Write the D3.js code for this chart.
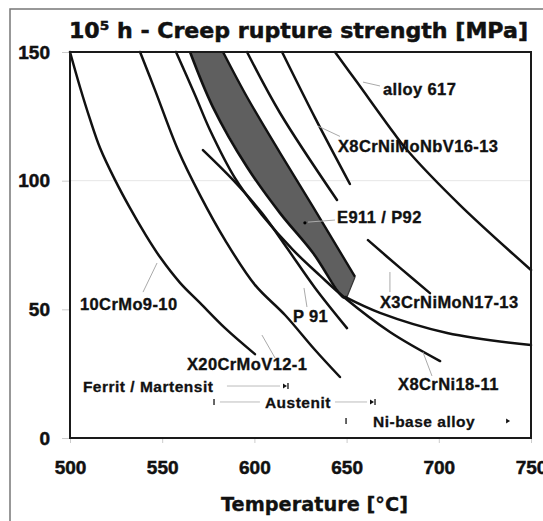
<!DOCTYPE html>
<html><head><meta charset="utf-8">
<script src="https://cdn.jsdelivr.net/npm/d3@7"></script>
<style>body{margin:0;background:#fff}svg{display:block}</style>
</head><body>
<script>
// ---- data (temperature °C, stress MPa) ----
const xTicks = [500, 550, 600, 650, 700, 750];
const yTicks = [0, 50, 100, 150];

const c10CrMo   = [[500,150],[505.4,136.4],[510.8,124.0],[516.3,112.7],[524.4,100.3],[532.5,89.4],[540.7,79.3],[548.8,70.3],[559.7,60.3],[570.5,52.5],[584.1,42.7],[600.3,32.6]];
const cX20      = [[538,150],[546.1,135.2],[558.6,111.9],[570.5,94.4],[584.1,76.9],[600.3,59.5],[616.6,47.8],[632.9,34.2],[646.4,23.7]];
const cX8CrNi   = [[557.5,150],[567.8,133.3],[575.9,119.7],[589.5,101.0],[604.1,86.7],[620.9,73.1],[635.6,63.1],[649.1,54.4],[673.5,41.2],[700.7,29.9]];
const cP91      = [[572.1,111.9],[588.4,100.3],[604.1,87.4],[617.7,73.8],[632.9,58.3],[650.2,42.7]];
const bandLow   = [[565.1,150],[577.5,128.6],[596,105.3],[613.9,87.4],[631.8,71.9],[648,54.8]];
const bandHigh  = [[583,150],[596,132.5],[613.9,110.8],[631.8,89.8],[654.6,62.6]];
const bandTip   = [650.2,54.8];
const cE        = [[596,150],[613.9,126.3],[644.8,92.5]];
const cNbV      = [[615,150],[632.9,124.4],[651.8,98.7]];
const cAlloy617 = [[643.7,150],[655.6,138.3],[675.2,118.9],[682.8,111.9],[711.5,90.5],[750,65.3]];
const cX3CrNi   = [[661.6,76.9],[679,66.1],[695.2,56.3]];
const cLowRight = [[649.1,54.8],[668.1,48.6],[704.5,40.8],[750,36.1]];

const curveLabels = [
  ["alloy 617", 669.7, 133.3],
  ["X8CrNiMoNbV16-13", 645.3, 111.1],
  ["E911 / P92", 644.8, 83.6],
  ["X3CrNiMoN17-13", 668.1, 50.5],
  ["P 91", 620.9, 45.1],
  ["10CrMo9-10", 505.4, 49.7],
  ["X20CrMoV12-1", 563.4, 26.4],
  ["X8CrNi18-11", 677.9, 18.7]
];
const leaders = [
  [[658.9,138.3],[668.1,136.8]],
  [[634.5,121.2],[646.4,117.2]],
  [[629.1,83.9],[643.7,84.7]],
  [[673.5,64.5],[673.5,56.7]],
  [[626.9,58.3],[628.5,50.9]],
  [[547.2,68.0],[539.6,56.7]],
  [[604.1,40.0],[611.2,31.1]],
  [[691.4,33.4],[696.3,24.1]]
];
const bandDot = [627.4, 83.6];

// structure ranges
const rowLabels = ["Ferrit / Martensit", "Austenit", "Ni-base alloy"];
const rowTextT  = [507.0, 605.7, 664.3];
const rowS      = [20.2, 14.0, 6.6];
const rowLines  = [[[585.1,613.9]], [[581.3,603.0],[643.7,661.1]], []];
const rowStart  = [null, 578.1, 649.7];
const rowArrow  = [615.5, 662.7, 736.5];

// ---- drawing ----
const W = 543, H = 521;
const x = d3.scaleLinear().domain([500, 750]).range([70, 531]);
const y = d3.scaleLinear().domain([0, 150]).range([438, 52]);

const svg = d3.select("body").append("svg").attr("width", W).attr("height", H);

svg.append("path").attr("d", `M10,${H} L10,9 L${W},9`).attr("fill", "none")
  .attr("stroke", "#777").attr("stroke-width", 1.5);

svg.append("line").attr("x1", x(500)).attr("x2", x(750)).attr("y1", y(100)).attr("y2", y(100))
  .attr("stroke", "#e6e6e6").attr("stroke-width", 1);

const yAxis = svg.append("g").attr("transform", `translate(${x(500)},0)`)
  .call(d3.axisLeft(y).tickValues(yTicks).tickSize(8).tickPadding(12));
const xAxis = svg.append("g").attr("transform", `translate(0,${y(0)})`)
  .call(d3.axisBottom(x).tickValues(xTicks).tickSize(5).tickPadding(18));
[yAxis, xAxis].forEach(g => {
  g.select(".domain").remove();
  g.selectAll(".tick line").attr("stroke", "#ccc");
  g.selectAll(".tick text").attr("font-family", "Liberation Sans, Arial, sans-serif")
    .attr("font-weight", "bold").attr("font-size", 19).attr("fill", "#111")
    .attr("stroke", "#111").attr("stroke-width", 0.5);
});

const line = d3.line().x(d => x(d[0])).y(d => y(d[1])).curve(d3.curveCatmullRom.alpha(0.5));

const bandPoly = bandLow.concat([bandTip]).concat(bandHigh.slice().reverse());
svg.append("path")
  .attr("d", d3.line().x(d => x(d[0])).y(d => y(d[1])).curve(d3.curveLinearClosed)(bandPoly))
  .attr("fill", "#5f5f5f").attr("stroke", "none");
svg.append("path").attr("d", line(bandLow.concat([bandTip]))).attr("fill", "none")
  .attr("stroke", "#111").attr("stroke-width", 2.6);
svg.append("path").attr("d", line(bandHigh)).attr("fill", "none")
  .attr("stroke", "#111").attr("stroke-width", 2.4);
svg.append("path").attr("d", line([bandHigh[bandHigh.length-1], bandTip])).attr("fill", "none")
  .attr("stroke", "#333").attr("stroke-width", 1.2);
svg.append("circle").attr("cx", x(bandDot[0])).attr("cy", y(bandDot[1])).attr("r", 1.6).attr("fill", "#000");

[c10CrMo, cX20, cX8CrNi, cP91, cE, cNbV, cAlloy617, cX3CrNi, cLowRight].forEach(c => {
  svg.append("path").attr("d", line(c)).attr("fill", "none")
    .attr("stroke", "#111").attr("stroke-width", 2.5).attr("stroke-linecap", "round");
});

leaders.forEach(l => {
  svg.append("line").attr("x1", x(l[0][0])).attr("y1", y(l[0][1]))
    .attr("x2", x(l[1][0])).attr("y2", y(l[1][1]))
    .attr("stroke", "#aaa").attr("stroke-width", 1);
});

curveLabels.forEach(([t, tx, ty]) => {
  svg.append("text").attr("x", x(tx)).attr("y", y(ty)).text(t)
    .attr("font-family", "Liberation Sans, Arial, sans-serif").attr("font-weight", "bold")
    .attr("font-size", 16.5).attr("letter-spacing", 0.4).attr("fill", "#111")
    .attr("stroke", "#111").attr("stroke-width", 0.35);
});

rowLabels.forEach((t, i) => {
  const yy = y(rowS[i]);
  svg.append("text").attr("x", x(rowTextT[i])).attr("y", yy).attr("dy", "0.36em").text(t)
    .attr("font-family", "Liberation Sans, Arial, sans-serif").attr("font-weight", "bold")
    .attr("font-size", 15.5).attr("letter-spacing", 0.5).attr("fill", "#111")
    .attr("stroke", "#111").attr("stroke-width", 0.3);
  rowLines[i].forEach(s => {
    svg.append("line").attr("x1", x(s[0])).attr("x2", x(s[1])).attr("y1", yy).attr("y2", yy)
      .attr("stroke", "#bbb").attr("stroke-width", 1);
  });
  if (rowStart[i] !== null) {
    svg.append("line").attr("x1", x(rowStart[i])).attr("x2", x(rowStart[i]))
      .attr("y1", yy - 3).attr("y2", yy + 3).attr("stroke", "#333").attr("stroke-width", 1.5);
  }
  const ax = x(rowArrow[i]);
  svg.append("path").attr("d", `M${ax},${yy-2.5} L${ax+4},${yy} L${ax},${yy+2.5} Z`).attr("fill", "#111");
  if (i < 2) {
    svg.append("line").attr("x1", ax + 5).attr("x2", ax + 5).attr("y1", yy - 3).attr("y2", yy + 3)
      .attr("stroke", "#111").attr("stroke-width", 1.3);
  }
});

svg.append("rect").attr("x", x(500)).attr("y", y(150)).attr("width", x(750) - x(500))
  .attr("height", y(0) - y(150)).attr("fill", "none").attr("stroke", "#1a1a1a").attr("stroke-width", 2);

const title = svg.append("text").attr("x", 69).attr("y", 38)
  .attr("font-family", "DejaVu Sans, sans-serif").attr("font-weight", "bold").attr("font-size", 21)
  .attr("fill", "#111").attr("stroke", "#111").attr("stroke-width", 0.5)
  .attr("textLength", 459).attr("lengthAdjust", "spacingAndGlyphs");
title.append("tspan").text("10");
title.append("tspan").text("5").attr("font-size", 13).attr("dy", -8);
title.append("tspan").text(" h - Creep rupture strength [MPa]").attr("dy", 8);

svg.append("text").attr("x", 221).attr("y", 511).text("Temperature [°C]")
  .attr("font-family", "DejaVu Sans, sans-serif").attr("font-weight", "bold").attr("font-size", 19)
  .attr("fill", "#111").attr("stroke", "#111").attr("stroke-width", 0.3)
  .attr("textLength", 187).attr("lengthAdjust", "spacingAndGlyphs");
</script>
</body></html>
